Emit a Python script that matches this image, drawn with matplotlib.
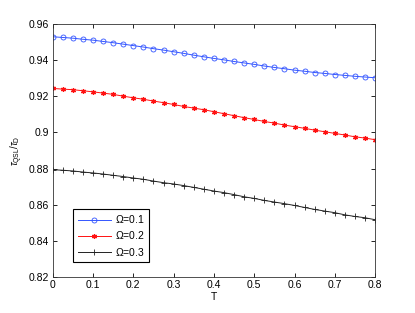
import numpy as np
import matplotlib
matplotlib.use("Agg")
import matplotlib.pyplot as plt

T = [i * 0.025 for i in range(33)]

omega01 = [0.9530, 0.9526, 0.9522, 0.9516, 0.9511, 0.9504, 0.9497, 0.9489, 0.9481,
           0.9473, 0.9464, 0.9456, 0.9447, 0.9438, 0.9428, 0.9419, 0.9410, 0.9402,
           0.9393, 0.9385, 0.9377, 0.9368, 0.9360, 0.9353, 0.9345, 0.9339, 0.9332,
           0.9327, 0.9321, 0.9316, 0.9311, 0.9307, 0.9303]
omega02 = [0.9244, 0.9240, 0.9237, 0.9231, 0.9225, 0.9218, 0.9211, 0.9201, 0.9192,
           0.9184, 0.9174, 0.9165, 0.9155, 0.9144, 0.9135, 0.9126, 0.9115, 0.9104,
           0.9093, 0.9082, 0.9072, 0.9061, 0.9052, 0.9041, 0.9032, 0.9023, 0.9013,
           0.9004, 0.8995, 0.8986, 0.8976, 0.8969, 0.8960]
omega03 = [0.8794, 0.8791, 0.8787, 0.8781, 0.8776, 0.8770, 0.8763, 0.8756, 0.8748,
           0.8741, 0.8731, 0.8722, 0.8715, 0.8706, 0.8696, 0.8686, 0.8676, 0.8667,
           0.8656, 0.8644, 0.8635, 0.8624, 0.8615, 0.8606, 0.8596, 0.8585, 0.8574,
           0.8565, 0.8556, 0.8544, 0.8535, 0.8528, 0.8517]

labels = [r"$\Omega$=0.1", r"$\Omega$=0.2", r"$\Omega$=0.3"]
xticks = [0, 0.1, 0.2, 0.3, 0.4, 0.5, 0.6, 0.7, 0.8]
xticklabels = ["0", "0.1", "0.2", "0.3", "0.4", "0.5", "0.6", "0.7", "0.8"]
yticks = [0.82, 0.84, 0.86, 0.88, 0.9, 0.92, 0.94, 0.96]
yticklabels = ["0.82", "0.84", "0.86", "0.88", "0.9", "0.92", "0.94", "0.96"]

plt.rcParams['font.family'] = ['Liberation Sans', 'DejaVu Sans']
plt.rcParams['mathtext.fontset'] = 'custom'
plt.rcParams['mathtext.rm'] = 'Liberation Sans'
plt.rcParams['mathtext.it'] = 'Liberation Sans:italic'

fig = plt.figure(figsize=(4.15, 3.13), dpi=100)
ax = fig.add_axes([0.127, 0.115, 0.777, 0.808])

ax.plot(T, omega01, color="#3355ff", lw=0.7, marker="o", ms=3.6, mfc="none",
        mew=0.6, label=labels[0])
ax.plot(T, omega02, color="#ff1111", lw=0.7, marker=(6, 2, 0), ms=3.6, mew=0.9,
        label=labels[1])
ax.plot(T, omega03, color="#222222", lw=0.7, marker="+", ms=4.2, mew=0.6,
        label=labels[2])

ax.set_xlim(0, 0.8)
ax.set_ylim(0.82, 0.96)
ax.set_xticks(xticks)
ax.set_xticklabels(xticklabels)
ax.set_yticks(yticks)
ax.set_yticklabels(yticklabels)
ax.tick_params(direction="in", length=3, width=0.6, labelsize=7.5,
               top=True, right=True, pad=2.5)
for s in ax.spines.values():
    s.set_linewidth(0.6)
    s.set_color("#333333")

ax.set_xlabel("T", fontsize=7.5, labelpad=1)
ax.set_ylabel(r"$\tau_{\rm QSL}/\tau_{\rm D}$", fontsize=7, labelpad=3)

leg = ax.legend(loc="lower left", bbox_to_anchor=(0.048, 0.04), fontsize=7.5,
                frameon=True, fancybox=False, edgecolor="black", framealpha=1,
                handlelength=3.2, borderpad=0.4, labelspacing=0.4,
                handletextpad=0.4, markerscale=1.0)
leg.get_frame().set_linewidth(0.8)

fig.savefig("out.png", dpi=100)
